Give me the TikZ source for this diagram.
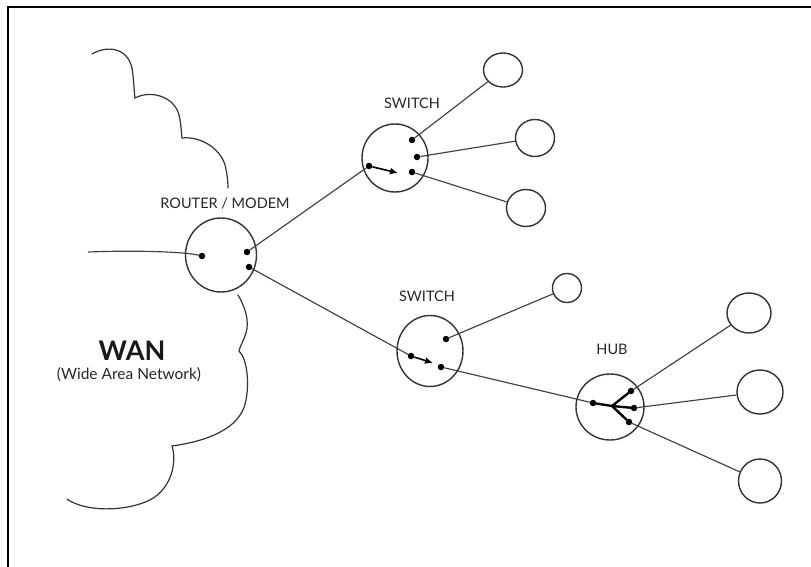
\documentclass[tikz,border=0pt]{standalone}
\usepackage{fontspec}
\setmainfont{Lato}
\usetikzlibrary{shapes.geometric,arrows.meta}
\begin{document}
\begin{tikzpicture}[x=1pt,y=-1pt,
  ink/.style={draw=black!80, line width=1.4pt},
  dev/.style={ellipse, ink, inner sep=0pt},
  leaf/.style={ellipse, ink, inner sep=0pt},
  port/.style={circle, fill=black, inner sep=0pt, minimum size=6.5pt},
  wire/.style={draw=black!75, line width=1.15pt},
  hubline/.style={draw=black, line width=2.4pt, line cap=round},
  fwd/.style={draw=black, line width=1.6pt, -{Latex[length=8pt,width=7pt]}},
  lbl/.style={font=\fontsize{14.5}{16}\selectfont, text=black!85},
  cloud/.style={draw=black!80, line width=1.2pt, line cap=round}]
\useasboundingbox (0,0) rectangle (811,567);
% frame
\draw[line width=1.2pt] (8,567) -- (8,7) -- (811,7);
% cloud (WAN)
\draw[cloud] (92,54) .. controls (105,46) and (127,46) .. (132,68)
  .. controls (134,80) and (134,92) .. (135,98)
  .. controls (150,90) and (172,96) .. (178,112)
  .. controls (181,120) and (181,130) .. (182,138)
  .. controls (200,136) and (220,148) .. (225,165)
  .. controls (227,173) and (228,181) .. (228,188);
\draw[cloud] (238,295) .. controls (244,305) and (250,320) .. (246,333)
  .. controls (244,340) and (240,346) .. (239,351)
  .. controls (248,360) and (249,385) .. (246,400)
  .. controls (242,425) and (215,440) .. (172,446)
  .. controls (177,462) and (172,488) .. (150,500)
  .. controls (125,512) and (85,512) .. (67,499);
% devices
\node[dev, minimum width=71pt, minimum height=74pt] (router) at (221,255) {};
\node[dev, minimum width=66pt, minimum height=68pt] (sw1) at (395,158) {};
\node[dev, minimum width=66pt, minimum height=71pt] (sw2) at (430,351) {};
\node[dev, minimum width=68pt, minimum height=66pt] (hub) at (610,407) {};
% end hosts
\node[leaf, minimum width=39pt, minimum height=34pt] (l1) at (503,70) {};
\node[leaf, minimum width=39pt, minimum height=37pt] (l2) at (535,138) {};
\node[leaf, minimum width=39pt, minimum height=37pt] (l3) at (526,208) {};
\node[leaf, minimum width=29pt, minimum height=29pt] (l4) at (567,288) {};
\node[leaf, minimum width=44pt, minimum height=40pt] (l5) at (749,313) {};
\node[leaf, minimum width=46pt, minimum height=44pt] (l6) at (760,392) {};
\node[leaf, minimum width=43pt, minimum height=44pt] (l7) at (760,481) {};
% ports
\node[port] (rA) at (202,256) {};
\node[port] (rB) at (247,252) {};
\node[port] (rC) at (249,267) {};
\node[port] (s1a) at (369,166) {};
\node[port] (s1b) at (412,140) {};
\node[port] (s1c) at (417,157) {};
\node[port] (s1d) at (412,172) {};
\node[port] (s2a) at (411,356) {};
\node[port] (s2b) at (446,339) {};
\node[port] (s2c) at (441,367) {};
\node[port] (ha) at (593,403) {};
\node[port] (hb) at (631,391) {};
\node[port] (hc) at (634,408) {};
\node[port] (hd) at (629,422) {};
\coordinate (hj) at (612,406);
\coordinate (s1t) at (398,173);
\coordinate (s2t) at (433,363);
\coordinate (wanend) at (88,252);
% wires
\draw[wire] (wanend) .. controls (140,250) and (185,252) .. (rA);
\draw[wire] (rB) -- (s1a);
\draw[wire] (rC) -- (s2a);
\draw[wire] (s1b) -- (l1);
\draw[wire] (s1c) -- (l2);
\draw[wire] (s1d) -- (l3);
\draw[wire] (s2b) -- (l4);
\draw[wire] (s2c) -- (ha);
\draw[wire] (hb) -- (l5);
\draw[wire] (hc) -- (l6);
\draw[wire] (hd) -- (l7);
% internal forwarding
\draw[fwd] (s1a) -- (s1t);
\draw[fwd] (s2a) -- (s2t);
\draw[hubline] (ha) -- (hj) -- (hb);
\draw[hubline] (hj) -- (hc);
\draw[hubline] (hj) -- (hd);
% labels
\node[lbl] (routerlbl) at (225,203) {ROUTER / MODEM};
\node[lbl] (sw1lbl) at (412,103) {SWITCH};
\node[lbl] (sw2lbl) at (427,296) {SWITCH};
\node[lbl] (hublbl) at (612,349) {HUB};
\node[font=\fontsize{27}{29}\selectfont\bfseries, text=black!90] (wan) at (132,351) {WAN};
\node[font=\fontsize{15.5}{17}\selectfont, text=black!85] (wanfull) at (129,375) {(Wide Area Network)};
\end{tikzpicture}
\end{document}
